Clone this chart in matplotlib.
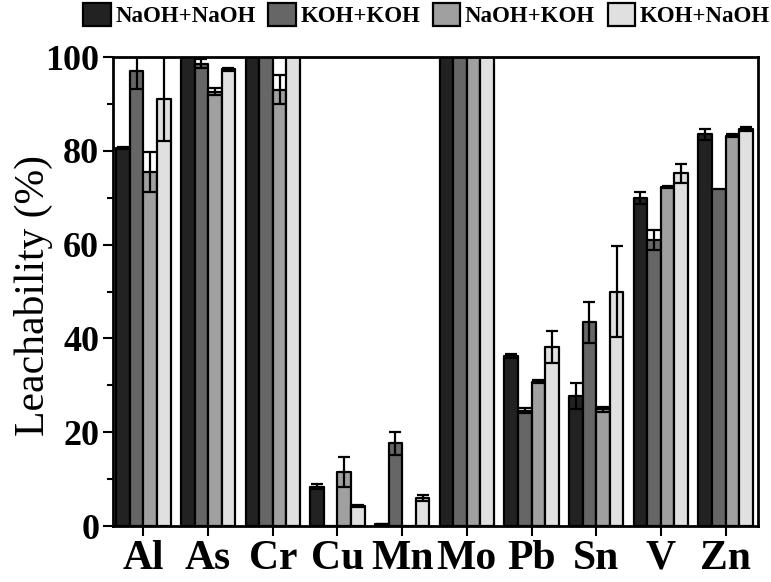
import matplotlib
matplotlib.use("Agg")
import matplotlib.pyplot as plt
import numpy as np

categories = ["Al", "As", "Cr", "Cu", "Mn", "Mo", "Pb", "Sn", "V", "Zn"]
series_names = ["NaOH+NaOH", "KOH+KOH", "NaOH+KOH", "KOH+NaOH"]

naoh_naoh = [80.6, 100, 100, 8.4, 0.4, 100, 36.2, 27.8, 70.0, 83.5]
naoh_naoh_err = [0.3, 0, 0, 0.5, 0.1, 0, 0.4, 2.8, 1.3, 1.1]
koh_koh = [97.1, 98.6, 100, 0, 17.6, 100, 24.6, 43.4, 61.0, 71.8]
koh_koh_err = [3.9, 1.0, 0, 0, 2.4, 0, 0.5, 4.4, 2.1, 0]
naoh_koh = [75.5, 92.6, 93.0, 11.6, 0, 100, 30.8, 24.9, 72.3, 83.2]
naoh_koh_err = [4.3, 0.7, 3.1, 3.2, 0, 0, 0.4, 0.5, 0.2, 0.3]
koh_naoh = [91.0, 97.4, 100, 4.3, 6.0, 100, 38.1, 50.0, 75.2, 84.6]
koh_naoh_err = [9.0, 0.3, 0, 0.2, 0.7, 0, 3.4, 9.8, 2.0, 0.4]

values = [naoh_naoh, koh_koh, naoh_koh, koh_naoh]
errors = [naoh_naoh_err, koh_koh_err, naoh_koh_err, koh_naoh_err]
colors = ["#222222", "#666666", "#a0a0a0", "#e0e0e0"]

plt.rcParams['font.family'] = ['Liberation Serif', 'DejaVu Serif']

fig = plt.figure(figsize=(7.71, 5.82), dpi=100)
ax = fig.add_axes([0.1466, 0.0962, 0.8364, 0.8058])

x = np.arange(1, len(categories) + 1)
w = 0.21
handles = []
for i, (vals, errs, c, name) in enumerate(zip(values, errors, colors, series_names)):
    pos = x + (i - 1.5) * w
    b = ax.bar(pos, vals, width=w, color=c, edgecolor="black", linewidth=1.6,
               label=name, zorder=2)
    for p in b.patches:
        p.set_joinstyle("round")
    handles.append(b)
    errs_arr = np.array(errs, dtype=float)
    mask = errs_arr > 0
    ax.errorbar(pos[mask], np.array(vals)[mask], yerr=errs_arr[mask], fmt="none",
                ecolor="black", elinewidth=1.6, capsize=4, capthick=1.6, zorder=3)

ax.set_xlim(0.53, 10.5)
ax.set_ylim(0, 100)
ax.set_xticks(x)
ax.set_xticklabels(categories, fontsize=30, fontweight="bold")
ax.set_yticks([0, 20, 40, 60, 80, 100])
ax.set_yticks([10, 30, 50, 70, 90], minor=True)
for lab in ax.get_yticklabels():
    lab.set_fontsize(26)
    lab.set_fontweight("bold")
ax.tick_params(axis="both", which="major", direction="out", length=7, width=1.5)
ax.tick_params(axis="y", which="minor", direction="out", length=4, width=1.5)
ax.tick_params(axis="x", pad=3)
ax.tick_params(axis="y", pad=3)
for s in ax.spines.values():
    s.set_linewidth(2)
ax.set_ylabel("Leachability (%)", fontsize=30)
ax.yaxis.set_label_coords(-0.093, 0.4925)

leg = fig.legend(handles=handles, labels=series_names, loc="upper left",
                 bbox_to_anchor=(0.108, 0.995), ncol=4, frameon=False,
                 prop={"weight": "bold", "size": 16.5}, handlelength=1.2,
                 handleheight=1.2, handletextpad=0.2, columnspacing=0.55,
                 borderpad=0, borderaxespad=0)

fig.savefig("out.png", dpi=100)
